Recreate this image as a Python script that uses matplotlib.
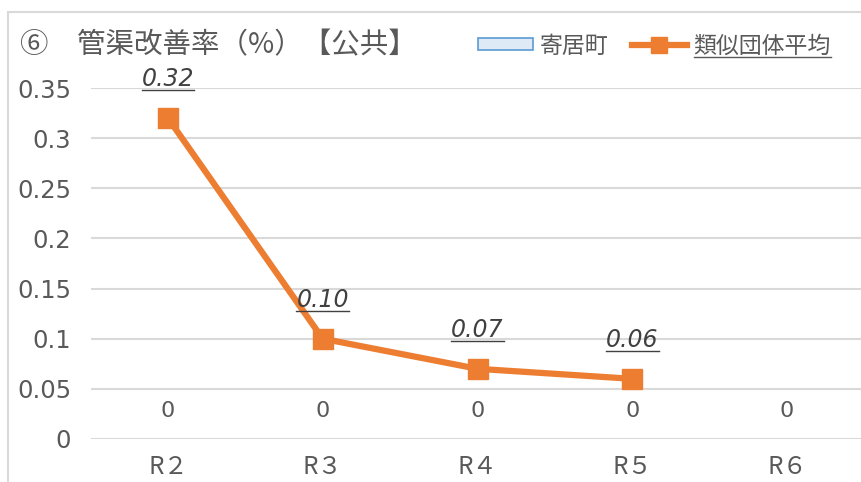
import matplotlib
matplotlib.use("Agg")
import matplotlib.pyplot as plt
from matplotlib.patches import Rectangle, Patch
from matplotlib.lines import Line2D
import numpy as np

plt.rcParams['font.family'] = ['Noto Sans CJK JP', 'DejaVu Sans']

categories = ['R２', 'R３', 'R４', 'R５', 'R６']
town_values = [0, 0, 0, 0, 0]
similar_values = [0.32, 0.10, 0.07, 0.06, np.nan]
similar_labels = ['0.32', '0.10', '0.07', '0.06', '']
yticks = [0, 0.05, 0.1, 0.15, 0.2, 0.25, 0.3, 0.35]
ytick_labels = ['0', '0.05', '0.1', '0.15', '0.2', '0.25', '0.3', '0.35']
title = '⑥　管渠改善率（%）【公共】'
series_names = ['寄居町', '類似団体平均']

W, H = 861, 482
fig = plt.figure(figsize=(W / 100, H / 100), dpi=100)
fig.patch.set_facecolor('white')

# outer chart frame
fig.patches.append(Rectangle((8 / W, -0.1), 1.2, (H - 12) / H + 0.1,
                             transform=fig.transFigure, fill=False,
                             edgecolor='#D9D9D9', linewidth=1.5))

left, right = 90.5, 864.5
bottom, top = 439, 88
ax = fig.add_axes([left / W, (H - bottom) / H, (right - left) / W, (bottom - top) / H])
ax.set_facecolor('none')

x = np.arange(len(categories))
ax.bar(x, town_values, width=0.6, color='#DEEBF7', edgecolor='#5B9BD5', linewidth=0)
ax.plot(x, similar_values, color='#ED7D31', linewidth=4.5, marker='s',
        markersize=15, zorder=3)

text_color = '#595959'
num_font = ['DejaVu Sans']
for xi, v in zip(x, town_values):
    ax.annotate(str(v), (xi, v), xytext=(0, 20), textcoords='offset points',
                ha='center', va='center', fontsize=16, color=text_color,
                family=num_font)

label_texts = []
for xi, v, lab in zip(x, similar_values, similar_labels):
    if lab:
        t = ax.annotate(lab, (xi, v), xytext=(0, 28), textcoords='offset points',
                        ha='center', va='center', fontsize=17, color='#404040',
                        style='italic', family=num_font)
        label_texts.append(t)

ax.set_xlim(-0.5, len(categories) - 0.5)
ax.set_ylim(0, 0.35)
ax.set_yticks(yticks)
ax.set_yticklabels(ytick_labels, family=num_font)
ax.set_xticks(x)
ax.set_xticklabels(categories)
ax.tick_params(axis='y', length=0, pad=14, labelsize=17.5, labelcolor=text_color)
ax.tick_params(axis='x', length=0, pad=11, labelsize=17.5, labelcolor=text_color)
ax.grid(axis='y', color='#D9D9D9', linewidth=1.5)
ax.set_axisbelow(True)
for s in ax.spines.values():
    s.set_visible(False)

fig.text(20 / W, (H - 45) / H, title, fontsize=20.5, color=text_color,
         ha='left', va='center')

handles = [Patch(facecolor='#DEEBF7', edgecolor='#5B9BD5', linewidth=1.2),
           Line2D([], [], color='#ED7D31', linewidth=4.5, marker='s', markersize=12)]
leg = fig.legend(handles, series_names, loc='center right',
                 bbox_to_anchor=(840 / W, (H - 46) / H), ncol=2, frameon=False,
                 fontsize=16.5, handlelength=2.4, handleheight=0.45, columnspacing=1.0,
                 handletextpad=0.3, labelcolor=text_color, borderaxespad=0)
leg_texts = leg.get_texts()
leg_texts[1].set_color(text_color)

# underline italic labels
fig.canvas.draw()
renderer = fig.canvas.get_renderer()
for t in label_texts + [leg_texts[1]]:
    bb = t.get_window_extent(renderer)
    y0 = bb.y0 + 1
    fig.add_artist(Line2D([bb.x0 / W, bb.x1 / W], [y0 / H, y0 / H],
                          transform=fig.transFigure, color=t.get_color(),
                          linewidth=1.0))

fig.savefig('out.png', dpi=100)
